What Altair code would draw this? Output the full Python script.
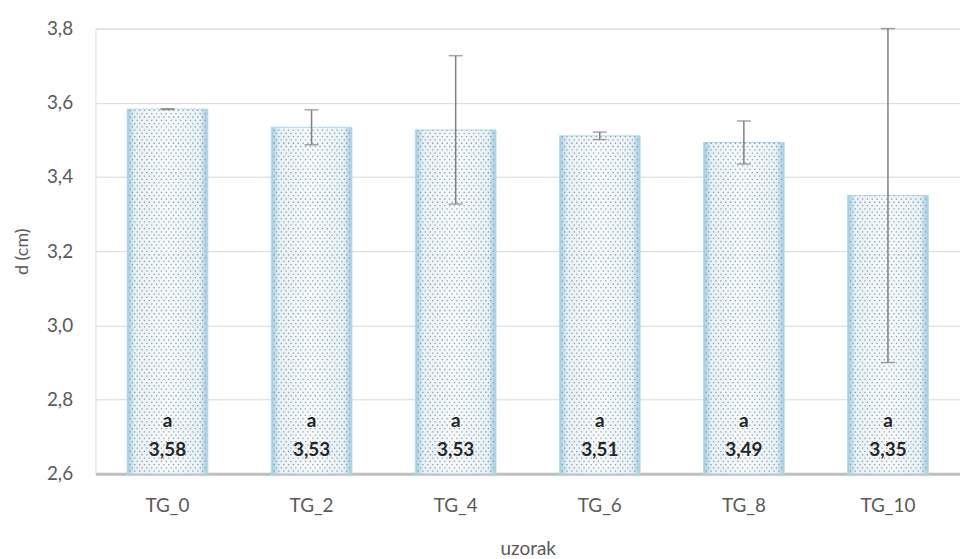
import altair as alt
import pandas as pd

categories = ["TG_0", "TG_2", "TG_4", "TG_6", "TG_8", "TG_10"]
means = [3.583, 3.534, 3.527, 3.511, 3.493, 3.35]
errors = [0.001, 0.047, 0.2, 0.01, 0.058, 0.45]
value_labels = ["3,58", "3,53", "3,53", "3,51", "3,49", "3,35"]
letters = ["a", "a", "a", "a", "a", "a"]

df = pd.DataFrame({
    "uzorak": categories,
    "d": means,
    "err": errors,
    "lab": value_labels,
    "let": letters,
})
df["idx"] = range(len(categories))
df["lo"] = df["d"] - df["err"]
df["hi"] = df["d"] + df["err"]
df["base"] = 2.6

FONT = "Lato"
TXT = "#595959"

x_scale = alt.Scale(paddingInner=0.44, paddingOuter=0.22)
y_scale = alt.Scale(domain=[2.6, 3.8], nice=False, zero=False)

x_axis = alt.Axis(title="uzorak", labelAngle=0, tickSize=0,
                  labelPadding=23, titlePadding=24,
                  domainColor="#bfbfbf", domainWidth=3, grid=False)
y_axis = alt.Axis(title="d (cm)", values=[2.6, 2.8, 3.0, 3.2, 3.4, 3.6, 3.8],
                  labelExpr="replace(format(datum.value, '.1f'), '.', ',')",
                  tickSize=0, domain=False, labelPadding=23,
                  titlePadding=15, titleFontSize=18,
                  gridColor="#d9d9d9", gridWidth=1)

base = alt.Chart(df)

grad = alt.Gradient(
    gradient="linear", x1=0, x2=1, y1=0, y2=0,
    stops=[
        alt.GradientStop(color="#9ccde0", offset=0),
        alt.GradientStop(color="#e6f1f6", offset=0.1),
        alt.GradientStop(color="#f7fafb", offset=0.5),
        alt.GradientStop(color="#e6f1f6", offset=0.9),
        alt.GradientStop(color="#9ccde0", offset=1),
    ],
)

bars = base.mark_bar(fill=grad, stroke="#b6dbe9", strokeWidth=1).encode(
    x=alt.X("uzorak:N", sort=categories, scale=x_scale, axis=x_axis),
    y=alt.Y("d:Q", scale=y_scale, axis=y_axis),
    y2=alt.Y2("base:Q"),
)

# dotted texture inside bars: staggered columns of dots
cols = base.transform_calculate(col="sequence(0, 32)").transform_flatten(["col"]) \
    .transform_calculate(xc="datum.idx + 0.5 + (datum.col - 15.5) * 0.0168")
x_dots = alt.X("xc:Q", scale=alt.Scale(domain=[0, 6], nice=False, zero=False), axis=None)


def dot_layer(parity, offset):
    return cols.transform_filter(f"datum.col % 2 == {parity}").mark_rule(
        color="#8a9499", strokeWidth=1.3, strokeDash=[1.3, 5.3],
        strokeDashOffset=offset, opacity=0.9,
    ).encode(
        x=x_dots,
        y=alt.Y("base:Q", scale=y_scale),
        y2="d:Q",
    )


dots = alt.layer(dot_layer(0, -2), dot_layer(1, -5.3))

xe = alt.X("uzorak:N", sort=categories, scale=x_scale, axis=None)

rules = base.mark_rule(color="#808080", strokeWidth=1.5).encode(
    x=xe,
    y=alt.Y("lo:Q", scale=y_scale),
    y2="hi:Q",
)
caps_lo = base.mark_tick(color="#808080", thickness=1.5, size=14, orient="horizontal").encode(
    x=xe,
    y=alt.Y("lo:Q", scale=y_scale),
)
caps_hi = base.mark_tick(color="#808080", thickness=1.5, size=14, orient="horizontal").encode(
    x=xe,
    y=alt.Y("hi:Q", scale=y_scale),
)

letter_text = base.mark_text(font=FONT, fontSize=19, fontWeight="bold",
                             color="#262626", dy=-53).encode(
    x=xe,
    y=alt.Y("base:Q", scale=y_scale),
    text="let:N",
)
value_text = base.mark_text(font=FONT, fontSize=19, fontWeight="bold",
                            color="#262626", dy=-24).encode(
    x=xe,
    y=alt.Y("base:Q", scale=y_scale),
    text="lab:N",
)

top = alt.layer(rules, caps_lo, caps_hi, letter_text, value_text)

chart = alt.layer(alt.layer(bars), dots, top).resolve_scale(x="independent").properties(
    width=870, height=448,
    autosize=alt.AutoSizeParams(type="none"),
    padding={"left": 88, "top": 19, "right": 0, "bottom": 84},
).configure_view(stroke=None).configure(background="white").configure_axis(
    labelFont=FONT, titleFont=FONT, labelFontSize=19, titleFontSize=19,
    labelColor=TXT, titleColor=TXT, titleFontWeight="normal",
)

chart.save("out.html", embed_options={"renderer": "svg", "actions": False})
